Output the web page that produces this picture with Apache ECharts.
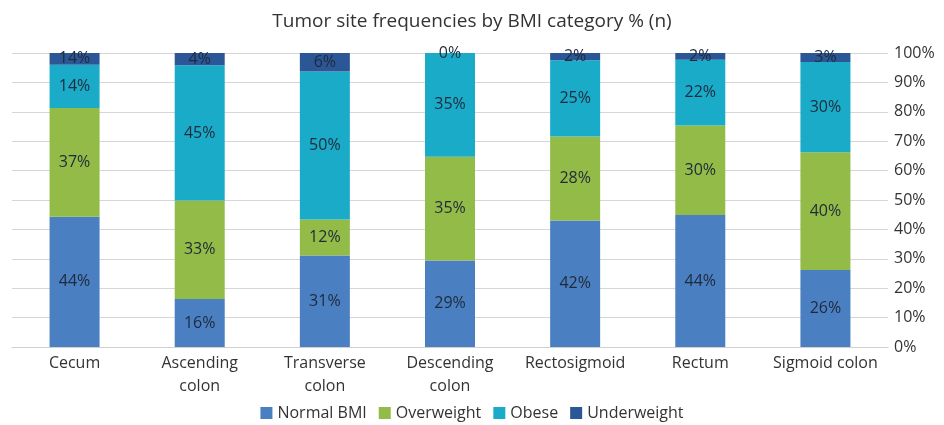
<!DOCTYPE html>
<html>
<head>
<meta charset="utf-8">
<script src="https://cdn.jsdelivr.net/npm/echarts@6/dist/echarts.min.js"></script>
<style>
  html, body { margin: 0; padding: 0; background: #fff; }
  #chart { width: 944px; height: 425px; }
</style>
</head>
<body>
<div id="chart"></div>
<script>
// tumor sites
const sites = ["Cecum", "Ascending\ncolon", "Transverse\ncolon", "Descending\ncolon", "Rectosigmoid", "Rectum", "Sigmoid colon"];

// share of each bar (each column sums to 100)
const normalBmi = [44.3, 16.3, 31.1, 29.4, 43.0, 44.9, 26.2];
const overweight = [37.0, 33.5, 12.3, 35.3, 28.6, 30.4, 40.0];
const obese = [14.7, 46.0, 50.3, 35.3, 25.9, 22.4, 30.7];
const underweight = [4.0, 4.2, 6.3, 0, 2.5, 2.3, 3.1];

// printed labels as in the source
const normalLabels = ["44%", "16%", "31%", "29%", "42%", "44%", "26%"];
const overweightLabels = ["37%", "33%", "12%", "35%", "28%", "30%", "40%"];
const obeseLabels = ["14%", "45%", "50%", "35%", "25%", "22%", "30%"];
const underweightLabels = ["14%", "4%", "6%", "0%", "2%", "2%", "3%"];

const yTicks = [0, 10, 20, 30, 40, 50, 60, 70, 80, 90, 100];

const font = '"Open Sans", sans-serif';

const chart = echarts.init(document.getElementById("chart"));

// helper for one stacked series
const makeSeries = (name, data, labels, color) => ({
  name: name,
  type: "bar",
  stack: "total",
  barWidth: 50,
  data: data,
  itemStyle: { color: color },
  label: {
    show: true,
    position: "inside",
    fontFamily: font,
    fontSize: 16,
    color: "#1f2a3a",
    formatter: (p) => labels[p.dataIndex],
  },
});

chart.setOption({
  animation: false,
  title: {
    text: "Tumor site frequencies by BMI category % (n)",
    left: "center",
    top: 7,
    textStyle: {
      fontFamily: font,
      fontSize: 19,
      fontWeight: "normal",
      color: "#333",
    },
  },
  legend: {
    bottom: -1,
    left: "center",
    icon: "rect",
    itemWidth: 12,
    itemHeight: 12,
    itemGap: 12,
    textStyle: { fontFamily: font, fontSize: 16, color: "#333" },
    data: ["Normal BMI", "Overweight", "Obese", "Underweight"],
  },
  grid: { left: 12, right: 56, top: 53, bottom: 78 },
  xAxis: {
    type: "category",
    data: sites,
    axisTick: { show: false },
    axisLine: { lineStyle: { color: "#d0d0d0" } },
    axisLabel: {
      interval: 0,
      fontFamily: font,
      fontSize: 16,
      color: "#333",
      lineHeight: 23,
      margin: 5,
    },
  },
  yAxis: {
    type: "value",
    position: "right",
    min: yTicks[0],
    max: yTicks[yTicks.length - 1],
    interval: 10,
    axisLabel: {
      fontFamily: font,
      fontSize: 16,
      color: "#333",
      margin: 6,
      formatter: "{value}%",
    },
    splitLine: { lineStyle: { color: "#d6d6d6" } },
    axisLine: { show: false },
    axisTick: { show: false },
  },
  series: [
    makeSeries("Normal BMI", normalBmi, normalLabels, "#4a7fc1"),
    makeSeries("Overweight", overweight, overweightLabels, "#92bb48"),
    makeSeries("Obese", obese, obeseLabels, "#1aabc9"),
    makeSeries("Underweight", underweight, underweightLabels, "#2c5797"),
  ],
});
</script>
</body>
</html>
